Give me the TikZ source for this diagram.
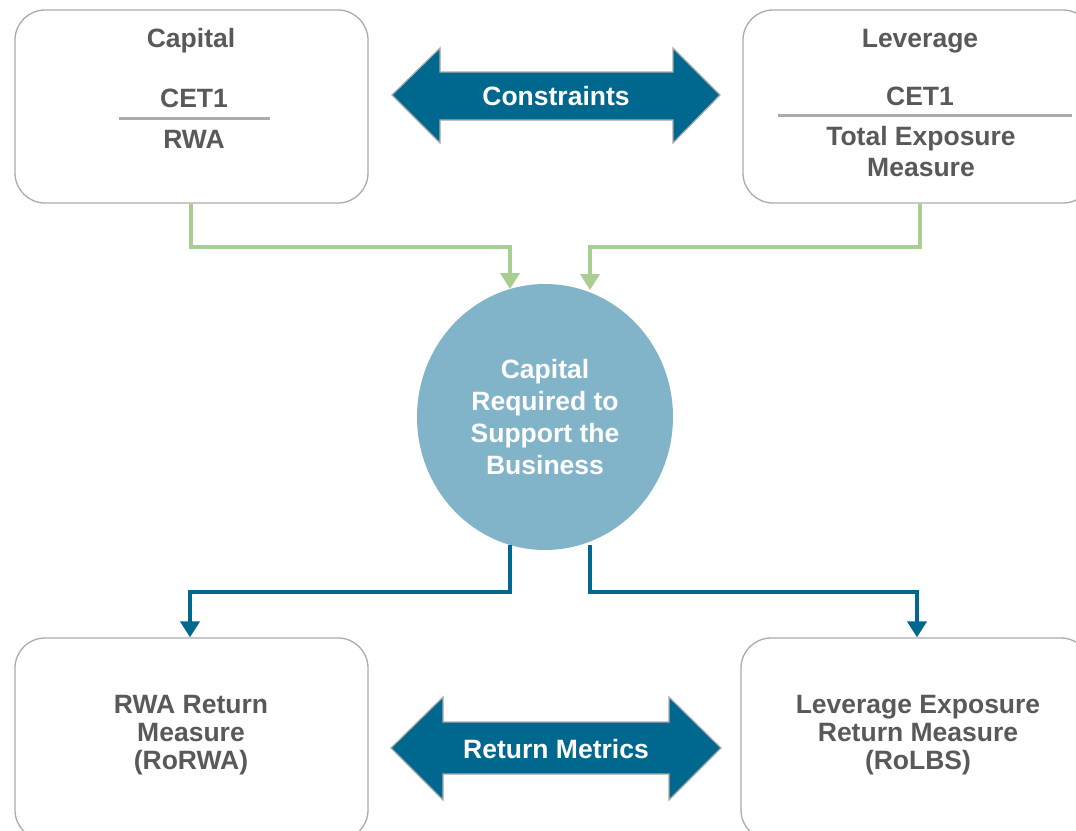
\documentclass[tikz,border=0pt]{standalone}
\usepackage{fontspec}
\setmainfont{Liberation Sans}
\usetikzlibrary{arrows.meta,shapes.geometric}
\definecolor{txtgray}{HTML}{595959}
\definecolor{boxgray}{HTML}{ABABAB}
\definecolor{darkteal}{HTML}{00688F}
\definecolor{circblue}{HTML}{82B4C9}
\definecolor{lgreen}{HTML}{A9CE92}
\tikzset{
  box/.style={draw=boxgray, line width=1.3pt, rounded corners=30pt, fill=white, inner sep=0pt},
  lbl/.style={text=txtgray, font=\fontsize{26.5}{31}\selectfont\bfseries, align=center, inner sep=0pt},
  wlbl/.style={text=white, font=\fontsize{26.5}{32}\selectfont\bfseries, align=center, inner sep=0pt},
  blbl/.style={text=txtgray, font=\fontsize{26.5}{28}\selectfont\bfseries, align=center, inner sep=0pt},
  fracline/.style={draw=boxgray, line width=3pt},
  bigarrow/.style={fill=darkteal, draw=boxgray, line width=1.2pt},
  gconn/.style={draw=lgreen, line width=4pt, -{Triangle[length=16pt,width=19pt]}},
  bconn/.style={draw=darkteal, line width=4pt, -{Triangle[length=16pt,width=19pt]}}
}
\begin{document}
\begin{tikzpicture}[x=1pt,y=-1pt]
\useasboundingbox (0,0) rectangle (1076,830);
% boxes
\node[box, minimum width=353pt, minimum height=193pt] (cap) at (191.5,106.5) {};
\node[box, minimum width=350pt, minimum height=193pt] (lev) at (918,106.5) {};
\node[box, minimum width=353pt, minimum height=202pt] (rorwa) at (191.5,739) {};
\node[box, minimum width=350pt, minimum height=202pt] (rolbs) at (916,739) {};
% circle
\node[ellipse, fill=circblue, minimum width=256pt, minimum height=266pt, inner sep=0pt] (crs) at (545,417) {};
% top left content
\node[lbl] (capt) at (191,41) {Capital};
\node[lbl] (capn) at (194,98) {CET1};
\node[lbl] (capd) at (194,139) {RWA};
\coordinate (capl1) at (119,118);
\coordinate (capl2) at (270,118);
\draw[fracline] (capl1) -- (capl2);
% top right content
\node[lbl] (levt) at (920,41) {Leverage};
\node[lbl] (levn) at (920,96) {CET1};
\node[lbl] (levd) at (921,152) {Total Exposure\\Measure};
\coordinate (levl1) at (778,115);
\coordinate (levl2) at (1072,115);
\draw[fracline] (levl1) -- (levl2);
% circle text
\node[wlbl] (crst) at (545,417) {Capital\\Required to\\Support the\\Business};
% bottom texts
\node[blbl] (rorwat) at (191,735) {RWA Return\\Measure\\(RoRWA)};
\node[blbl] (rolbst) at (918,735) {Leverage Exposure\\Return Measure\\(RoLBS)};
% big double arrows
\draw[bigarrow] (392,95) -- (440,48) -- (440,72) -- (673,72) -- (673,48) -- (720,95) -- (673,143) -- (673,120) -- (440,120) -- (440,143) -- cycle;
\node[wlbl] (constr) at (556,96) {Constraints};
\draw[bigarrow] (391,748) -- (443,697) -- (443,722) -- (669,722) -- (669,697) -- (721,748) -- (669,800) -- (669,774) -- (443,774) -- (443,800) -- cycle;
\node[wlbl] (retm) at (556,749) {Return Metrics};
% green connectors
\coordinate (g1) at (191,247);
\coordinate (g2) at (510,247);
\coordinate (g3) at (920,247);
\coordinate (g4) at (590,247);
\coordinate (ge1) at (510,289);
\coordinate (ge2) at (590,290);
\draw[gconn] (cap.south -| g1) -- (g1) -- (g2) -- (ge1);
\draw[gconn] (g3 |- lev.south) -- (g3) -- (g4) -- (ge2);
% blue connectors
\coordinate (bs1) at (510,545);
\coordinate (bs2) at (590,545);
\coordinate (b1) at (510,592);
\coordinate (b2) at (190,592);
\coordinate (b3) at (590,592);
\coordinate (b4) at (917,592);
\draw[bconn] (bs1) -- (b1) -- (b2) -- (b2 |- rorwa.north);
\draw[bconn] (bs2) -- (b3) -- (b4) -- (b4 |- rolbs.north);
\end{tikzpicture}
\end{document}
